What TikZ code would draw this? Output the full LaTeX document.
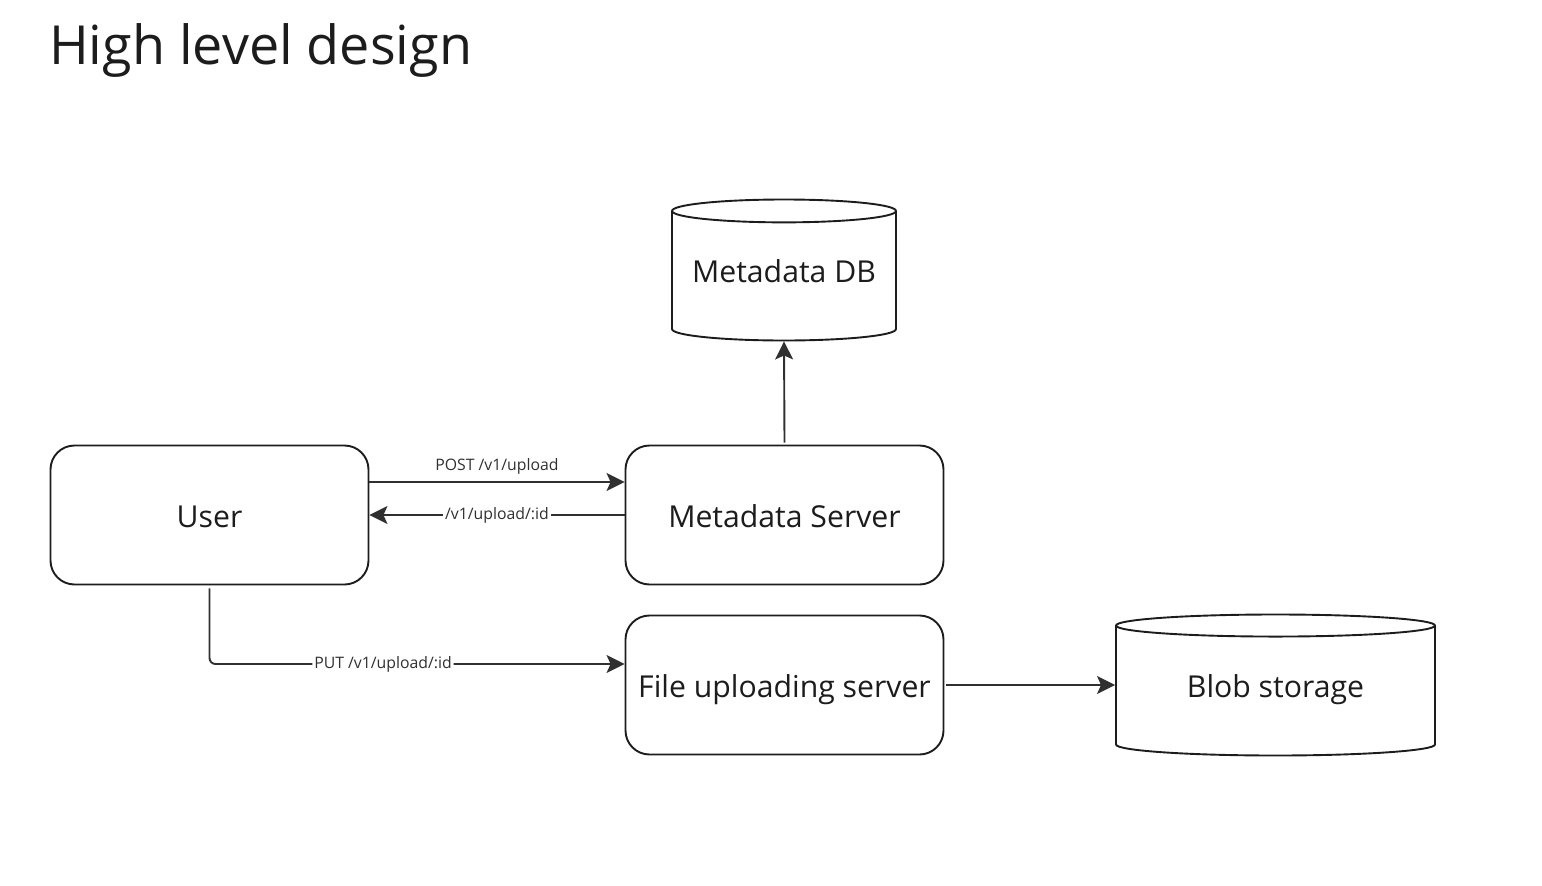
\documentclass[tikz,border=0pt]{standalone}
\usepackage{fontspec}
\setmainfont{Open Sans}
\usetikzlibrary{shapes.geometric, arrows.meta, positioning}
\definecolor{InkGray}{RGB}{28,28,28}
\definecolor{WireGray}{RGB}{48,48,48}

\begin{document}
\begin{tikzpicture}[x=1pt, y=-1pt,
  svcbox/.style={rectangle, rounded corners=24pt, draw=InkGray, line width=1.9pt,
    minimum width=318pt, minimum height=139pt, text=InkGray,
    text height=25pt, text depth=0pt, font=\fontsize{30.2}{35}\selectfont},
  dbcyl/.style={cylinder, shape border rotate=90, aspect=0.12, draw=InkGray,
    line width=1.9pt, text=InkGray, text depth=13pt, anchor=shape center,
    font=\fontsize{30.2}{35}\selectfont},
  wire/.style={draw=WireGray, line width=1.9pt, -{Stealth[length=18pt, width=18pt, inset=4pt]}},
  wirelbl/.style={font=\fontsize{15.8}{18}\selectfont, text=WireGray, fill=white, inner sep=2pt}]
  \useasboundingbox (0,0) rectangle (1542,886);

  % title
  \node[anchor=base west, inner sep=0pt, text=InkGray, font=\fontsize{53.9}{60}\selectfont]
    (title) at (49,64) {High level design};

  % boxes
  \node[svcbox] (user) at (209.5,515) {User};
  \node[svcbox] (metasrv) at (784.5,515) {Metadata Server};
  \node[svcbox] (uploadsrv) at (784.5,685) {File uploading server};

  % stores
  \node[dbcyl, minimum width=224pt, minimum height=141pt] (metadb) at (784,270) {Metadata DB};
  \node[dbcyl, minimum width=319pt, minimum height=141pt] (blob) at (1275.5,685) {Blob storage};

  % connectors
  \draw[wire] ([yshift=33pt]user.east) -- node[wirelbl, above=5pt, fill=none] {POST /v1/upload}
    ([yshift=33pt]metasrv.west);
  \draw[wire] (metasrv.west) -- node[wirelbl] {/v1/upload/:id} (user.east);
  \coordinate (usrdrop) at ([yshift=-3pt]user.south);
  \draw[wire, rounded corners=6pt] (usrdrop) |- node[wirelbl, pos=0.709] {PUT /v1/upload/:id}
    ([yshift=21pt]uploadsrv.west);
  \draw[wire] ([yshift=2pt]metasrv.north) -- (metadb.south);
  \draw[wire] ([xshift=2pt]uploadsrv.east) -- (uploadsrv.east -| blob.west);
\end{tikzpicture}
\end{document}
